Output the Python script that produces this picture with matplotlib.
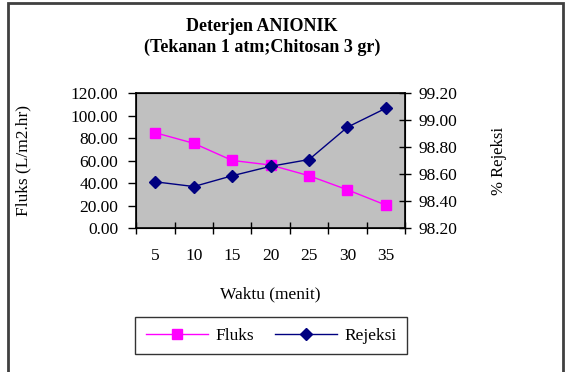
import numpy as np
import matplotlib.pyplot as plt
from matplotlib.patches import Rectangle

waktu = ["5", "10", "15", "20", "25", "30", "35"]
fluks = [85.0, 75.6, 60.4, 56.3, 46.8, 34.3, 20.7]
rejeksi = [98.545, 98.51, 98.59, 98.66, 98.71, 98.95, 99.09]

plt.rcParams['font.family'] = ['Liberation Serif', 'DejaVu Serif']
fs = 12.5

fig = plt.figure(figsize=(5.65, 3.72), dpi=100)
# outer chart frame (bottom edge is cut off in the original)
fig.patches.append(Rectangle((0.014, -0.02), 0.982, 1.012, transform=fig.transFigure,
                             fill=False, edgecolor='#404040', linewidth=2))

ax = fig.add_axes([0.241, 0.386, 0.476, 0.363])
ax.set_facecolor('#C0C0C0')
x = np.arange(len(waktu))

l1, = ax.plot(x, fluks, color='#FF00FF', marker='s', markersize=7, linewidth=1, label='Fluks')
ax.set_ylim(0, 120)
ax.set_yticks(np.arange(0, 121, 20))
ax.set_yticklabels(["%.2f" % v for v in np.arange(0, 121, 20)], fontsize=fs)
ax.set_xlim(-0.5, len(waktu) - 0.5)
ax.set_xticks(np.arange(-0.5, len(waktu), 1))
ax.set_xticklabels([])
ax.set_xticks(x, minor=True)
ax.set_xticklabels(waktu, minor=True, fontsize=fs)
ax.tick_params(axis='x', which='major', direction='inout', length=8, width=1)
ax.tick_params(axis='x', which='minor', length=0, pad=14)
ax.tick_params(axis='y', direction='out', length=6, width=1, pad=7)
ax.set_ylabel('Fluks (L/m2.hr)', fontsize=fs)
ax.yaxis.set_label_coords(-0.39, 0.5)
ax.set_xlabel('Waktu (menit)', fontsize=fs)
ax.xaxis.set_label_coords(0.5, -0.427)
for s in ax.spines.values():
    s.set_linewidth(1.2)

ax2 = ax.twinx()
l2, = ax2.plot(x, rejeksi, color='#000080', marker='D', markersize=6, linewidth=1, label='Rejeksi')
ax2.set_ylim(98.2, 99.2)
rt = np.arange(98.2, 99.21, 0.2)
ax2.set_yticks(rt)
ax2.set_yticklabels(["%.2f" % v for v in rt], fontsize=fs)
ax2.tick_params(axis='y', direction='inout', length=8, width=1, pad=6)
ax2.set_ylabel('% Rejeksi', fontsize=fs - 0.5, rotation=90)
ax2.yaxis.set_label_coords(1.32, 0.5)

fig.text(0.464, 0.929, 'Deterjen ANIONIK', ha='center', va='center', fontsize=fs + 0.5, fontweight='bold')
fig.text(0.464, 0.872, '(Tekanan 1 atm;Chitosan 3 gr)', ha='center', va='center', fontsize=fs + 0.5, fontweight='bold')

leg = fig.legend(handles=[l1, l2], loc='center', bbox_to_anchor=(0.48, 0.097), ncol=2,
                 fontsize=fs, frameon=True, fancybox=False, edgecolor='black',
                 handlelength=3.6, handletextpad=0.4, columnspacing=1.2, borderpad=0.6)
leg.get_frame().set_linewidth(1)

fig.savefig('out.png', dpi=100)
